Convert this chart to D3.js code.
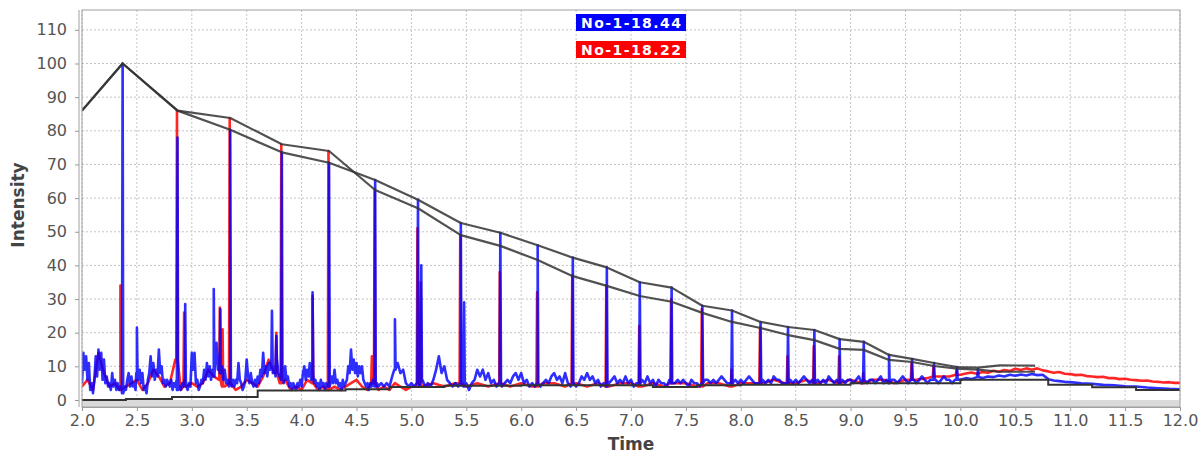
<!DOCTYPE html>
<html><head><meta charset="utf-8">
<script src="https://cdn.jsdelivr.net/npm/d3@7"></script>
<style>body{margin:0;background:#fff}</style>
</head><body>
<svg id="c" width="1203" height="454"></svg>
<script>
// ---------------- DATA ----------------
const xTicks = [2.0,2.5,3.0,3.5,4.0,4.5,5.0,5.5,6.0,6.5,7.0,7.5,8.0,8.5,9.0,9.5,10.0,10.5,11.0,11.5,12.0];
const yTicks = [0,10,20,30,40,50,60,70,80,90,100,110];
const seriesNames = ["No-1-18.44","No-1-18.22"];
const seriesColors = ["#0000ff","#ff0000"];

// blue trace baseline (time, intensity)
const blueNoise = [
[2.0000,5],[2.0125,14],[2.0250,9],[2.0375,13],[2.0500,6],[2.0625,11],[2.0750,3],[2.0875,5],[2.1000,2],[2.1125,6],
[2.1250,13],[2.1375,7],[2.1500,15],[2.1625,9],[2.1750,14],[2.1875,6],[2.2000,12],[2.2125,5],[2.2250,7],[2.2375,4],
[2.2500,5],[2.2625,3],[2.2750,8],[2.2875,4],[2.3000,6],[2.3125,3],[2.3250,5],[2.3375,3],[2.3500,4],[2.3625,3],
[2.3750,2],[2.3875,4],[2.4000,3],[2.4125,6],[2.4250,8],[2.4375,4],[2.4500,7],[2.4625,4],[2.4750,5],[2.4875,3],
[2.5000,8],[2.5125,6],[2.5250,9],[2.5375,5],[2.5500,8],[2.5625,3],[2.5750,4],[2.5875,2],[2.6000,6],[2.6125,8],
[2.6250,13],[2.6375,7],[2.6500,11],[2.6625,6],[2.6750,9],[2.6875,7],[2.7000,15],[2.7125,8],[2.7250,10],[2.7375,5],
[2.7500,6],[2.7625,4],[2.7750,6],[2.7875,5],[2.8000,4],[2.8125,6],[2.8250,3],[2.8375,5],[2.8500,4],[2.8625,6],
[2.8750,3],[2.8875,4],[2.9000,3],[2.9125,5],[2.9250,4],[2.9375,6],[2.9500,4],[2.9625,3],[2.9750,5],[2.9875,4],
[3.0000,14],[3.0125,9],[3.0250,14],[3.0375,5],[3.0500,6],[3.0625,3],[3.0750,4],[3.0875,6],[3.1000,5],[3.1125,9],
[3.1250,6],[3.1375,11],[3.1500,7],[3.1625,10],[3.1750,6],[3.1875,9],[3.2000,7],[3.2125,12],[3.2250,17],[3.2375,9],
[3.2500,13],[3.2625,8],[3.2750,10],[3.2875,6],[3.3000,9],[3.3125,5],[3.3250,6],[3.3375,4],[3.3500,5],[3.3625,4],
[3.3750,6],[3.3875,4],[3.4000,6],[3.4125,5],[3.4250,11],[3.4375,6],[3.4500,5],[3.4625,3],[3.4750,4],[3.4875,6],
[3.5000,12],[3.5125,7],[3.5250,5],[3.5375,8],[3.5500,5],[3.5625,4],[3.5750,6],[3.5875,4],[3.6000,7],[3.6125,5],
[3.6250,9],[3.6375,7],[3.6500,14],[3.6625,8],[3.6750,10],[3.6875,7],[3.7000,11],[3.7125,9],[3.7250,12],[3.7375,8],
[3.7500,10],[3.7625,7],[3.7750,12],[3.7875,8],[3.8000,7],[3.8125,6],[3.8250,8],[3.8375,5],[3.8500,10],[3.8625,6],
[3.8750,7],[3.8875,4],[3.9000,5],[3.9125,3],[3.9250,5],[3.9375,4],[3.9500,3],[3.9625,5],[3.9750,4],[3.9875,6],
[4.0000,4],[4.0125,8],[4.0250,10],[4.0375,6],[4.0500,9],[4.0625,7],[4.0750,11],[4.0875,6],[4.1000,8],[4.1125,5],
[4.1250,6],[4.1375,4],[4.1500,5],[4.1625,3],[4.1750,6],[4.1875,4],[4.2000,5],[4.2125,3],[4.2250,5],[4.2375,4],
[4.2500,4],[4.2625,5],[4.2750,7],[4.2875,5],[4.3000,9],[4.3125,5],[4.3250,6],[4.3375,4],[4.3500,5],[4.3625,3],
[4.3750,6],[4.3875,4],[4.4000,5],[4.4125,6],[4.4250,10],[4.4375,8],[4.4500,15],[4.4625,9],[4.4750,12],[4.4875,8],
[4.5000,11],[4.5125,7],[4.5250,10],[4.5375,8],[4.5500,10],[4.5625,6],[4.5750,5],[4.5875,4],[4.6000,5],[4.6125,3],
[4.6250,5],[4.6375,4],[4.6500,6],[4.6625,4],[4.6750,4],[4.6875,5],[4.7000,4],
[4.725,5],[4.750,4],[4.775,5],[4.800,4],[4.825,7],[4.850,9],[4.875,11],[4.900,8],[4.925,9],[4.950,5],[4.975,4],[5.000,5],
[5.025,4],[5.050,5],[5.075,4],[5.100,6],[5.125,4],[5.150,5],[5.175,4],[5.200,6],[5.225,9],[5.250,13],
[5.275,8],[5.300,10],[5.325,6],[5.350,5],[5.375,4],[5.400,5],[5.425,4],[5.450,5],[5.475,4],[5.500,5],
[5.525,3],[5.550,5],[5.575,6],[5.600,9],[5.625,7],[5.650,9],[5.675,6],[5.700,8],[5.725,5],[5.750,6],
[5.775,4],[5.800,5],[5.825,4],[5.850,5],[5.875,6],[5.900,5],[5.925,7],[5.950,8],[5.975,6],[6.000,8],
[6.025,5],[6.050,6],[6.075,4],[6.100,5],[6.125,4],[6.150,5],[6.175,4],[6.200,5],[6.225,6],[6.250,5],
[6.275,7],[6.300,8],[6.325,6],[6.350,7],[6.375,5],[6.400,8],[6.425,5],[6.450,4],[6.475,5],[6.500,4],
[6.525,5],[6.550,7],[6.575,6],[6.600,8],[6.625,6],[6.650,7],[6.675,5],[6.700,6],[6.725,4],[6.750,5],
[6.775,4],[6.800,5],[6.825,6],[6.850,7],[6.875,5],[6.900,6],[6.925,5],[6.950,7],[6.975,5],[7.000,6],
[7.025,4],[7.050,5],[7.075,5],[7.100,6],[7.125,5],[7.150,7],[7.175,5],[7.200,6],[7.225,4],[7.250,6],
[7.275,5],[7.300,5],[7.325,4],[7.350,6],[7.375,5],[7.400,5],[7.425,6],[7.450,5],[7.475,6],[7.500,5],
[7.525,4],[7.550,6],[7.575,5],[7.600,5],[7.625,4],[7.650,5],[7.675,6],[7.700,6],[7.725,5],[7.750,6],
[7.775,5],[7.800,6],[7.825,7],[7.850,6],[7.875,5],[7.900,5],[7.925,5],[7.950,6],[7.975,5],[8.000,6],
[8.025,5],[8.050,6],[8.075,7],[8.100,6],[8.125,5],[8.150,5],[8.175,5],[8.200,6],[8.225,5],[8.250,6],
[8.275,5],[8.300,7],[8.325,6],[8.350,6],[8.375,5],[8.400,5],[8.425,5],[8.450,6],[8.475,5],[8.500,6],
[8.525,5],[8.550,6],[8.575,7],[8.600,6],[8.625,5],[8.650,6],[8.675,5],[8.700,6],[8.725,5],[8.750,6],
[8.775,5],[8.800,7],[8.825,6],[8.850,5],[8.875,6],[8.900,5],[8.925,6],[8.950,5],[8.975,6],[9.000,6],
[9.025,5],[9.050,6],[9.075,7],[9.100,5],[9.125,6],[9.150,5],[9.175,6],[9.200,6],[9.225,5],[9.250,6],
[9.275,7],[9.300,5],[9.325,6],[9.350,5],[9.375,6],[9.400,6],[9.425,5],[9.450,6],[9.475,7],[9.500,6],
[9.525,5],[9.550,6],[9.575,6],[9.600,5],[9.625,6],[9.650,7],[9.675,6],[9.700,5],[9.725,6],[9.750,6],
[9.775,6],[9.800,5],[9.825,6],[9.850,7],[9.875,6],[9.900,6],[9.925,5],[9.950,6],[9.975,6],[10.000,6],
[10.05,6.5],[10.10,6.2],[10.15,6.8],[10.20,6.5],[10.25,7],[10.30,6.8],[10.35,7.3],[10.40,7],[10.45,7.5],[10.50,7.2],
[10.55,7.6],[10.60,7.3],[10.65,7.7],[10.70,7.4],[10.75,7.5],[10.80,6.2],[10.85,5.8],[10.90,5.6],[10.95,5.4],[11.00,5.3],
[11.1,5.0],[11.2,4.8],[11.3,4.5],[11.4,4.4],[11.5,4.1],[11.6,4.0],[11.7,3.7],[11.8,3.5],[11.9,3.3],[12.0,3.2]
];
// blue spikes (time, apex)
const bluePeaks = [
[2.37,100],[2.50,21.5],[2.87,78],[2.94,28.5],[3.20,33],[3.26,27],[3.35,80.3],[3.73,26.5],[3.77,19],
[3.82,73.6],[4.10,32],[4.25,70.5],[4.67,65.4],[4.85,24],[5.06,59.5],[5.09,40],[5.45,52.6],[5.48,29],
[5.81,49.7],[6.15,46],[6.47,42.3],[6.78,39.4],[7.08,35],[7.37,33.4],[7.65,28],[7.92,26.6],[8.18,23.2],
[8.43,21.7],[8.67,20.8],[8.90,18.1],[9.12,17.3],[9.35,13.4],[9.56,12.2],[9.76,11],[9.97,9.8],[10.16,9.2]
];
// red trace baseline
const redNoise = [
[2.00,4],[2.05,6],[2.10,3],[2.15,14],[2.20,8],[2.25,4],[2.30,5],[2.35,3],[2.40,4],[2.45,5],
[2.50,6],[2.55,3],[2.60,5],[2.65,9],[2.70,7],[2.75,4],[2.80,5],[2.85,12],[2.90,3],[2.95,4],
[3.00,5],[3.05,4],[3.10,5],[3.15,9],[3.20,7],[3.25,6],[3.30,4],[3.35,5],[3.40,3],[3.45,4],
[3.50,6],[3.55,5],[3.60,4],[3.65,7],[3.70,12],[3.75,8],[3.80,5],[3.85,6],[3.90,3],[3.95,4],
[4.00,3],[4.05,6],[4.10,5],[4.15,3],[4.20,4],[4.25,3],[4.30,4],[4.35,3],[4.40,4],[4.45,5],
[4.50,6],[4.55,4],[4.60,3],[4.65,5],[4.70,3],[4.75,4],[4.80,3],[4.85,5],[4.90,4],[4.95,3],
[5.0,4],[5.1,4],[5.2,5],[5.3,4],[5.4,5],[5.5,4],[5.6,5],[5.7,4],[5.8,5],[5.9,4],
[6.0,5],[6.1,4],[6.2,5],[6.3,5],[6.4,4],[6.5,5],[6.6,4],[6.7,5],[6.8,4],[6.9,5],
[7.0,5],[7.1,4],[7.2,5],[7.3,4],[7.4,5],[7.5,5],[7.6,4],[7.7,5],[7.8,5],[7.9,4],
[8.0,5],[8.1,5],[8.2,5],[8.3,6],[8.4,5],[8.5,5],[8.6,6],[8.7,5],[8.8,6],[8.9,5],
[9.0,6],[9.1,5],[9.2,6],[9.3,6],[9.4,5],[9.5,6],[9.6,6],[9.7,6.5],[9.8,7],[9.9,7],
[10.00,7.5],[10.05,7.9],[10.10,8.2],[10.15,7.8],[10.20,8.3],[10.25,8.1],[10.30,8.7],[10.35,8.4],[10.40,8.9],[10.45,8.6],
[10.50,9.3],[10.55,8.9],[10.60,9.4],[10.65,9.0],[10.70,9.4],[10.75,8.8],[10.80,8.5],[10.85,8.1],[10.90,8.3],[10.95,7.8],
[11.0,7.7],[11.05,7.4],[11.1,7.5],[11.15,7.1],[11.2,7.0],[11.25,6.8],[11.3,6.9],[11.35,6.5],[11.4,6.5],[11.45,6.2],
[11.5,6.3],[11.55,6.0],[11.6,5.9],[11.65,5.7],[11.7,5.8],[11.75,5.5],[11.8,5.4],[11.85,5.2],[11.9,5.3],[11.95,5.1],[12.0,5.1]
];
// red spikes (time, apex)
const redPeaks = [
[2.35,34],[2.865,86],[2.93,26],[3.255,27.5],[3.28,21],[3.345,83.8],[3.77,20],[3.815,76],[4.10,31],
[4.245,74],[4.64,13],[4.665,62.4],[5.055,51],[5.085,35],[5.445,49],[5.805,38],[6.145,32],[6.465,37],
[6.775,34],[7.075,22],[7.365,30],[7.645,27],[7.915,9],[8.175,21.5],[8.425,13],[8.665,16],[8.895,13],
[9.115,8],[9.555,11],[9.755,10],[9.965,9]
];
// black envelope lines through the peak apexes
const envelopeA = [
[2.0,86],[2.37,100],[2.87,86],[3.35,83.8],[3.82,76],[4.25,74],[4.67,62.4],[5.06,57],[5.45,49],[5.81,45.8],
[6.15,41.6],[6.47,36.8],[6.78,33.9],[7.08,30.9],[7.37,29.2],[7.65,25.9],[7.92,23.2],[8.18,21.4],[8.43,19.3],
[8.67,17.8],[8.90,15.2],[9.12,14.9],[9.35,11.9],[9.56,11.3],[9.76,10.1],[9.97,9.3],[10.16,9.0],[10.36,8.4],[10.68,8.4]
];
const envelopeB = [
[2.0,86],[2.37,100],[2.87,86],[3.35,80.3],[3.82,73.6],[4.25,70.5],[4.67,65.4],[5.06,59.5],[5.45,52.6],[5.81,49.7],
[6.15,46],[6.47,42.3],[6.78,39.4],[7.08,35],[7.37,33.4],[7.65,28],[7.92,26.6],[8.18,23.2],[8.43,21.7],
[8.67,20.8],[8.90,18.1],[9.12,17.3],[9.35,13.4],[9.56,12.2],[9.76,11],[9.97,9.8],[10.16,9.6],[10.36,10.3],[10.68,10.2]
];
// black stepped baseline
const baselineSteps = [
[2.0,0],[2.4,0.3],[2.82,0.9],[3.6,2.8],[4.4,3.2],[4.8,3.9],[5.3,4.2],[6.0,4.4],[7.2,3.9],[7.6,4.4],
[8.0,4.5],[9.0,5],[10.0,6],[10.8,4.5],[11.2,3.8],[11.6,3],[12.0,3]
];

// ---------------- CHART ----------------
const svg = d3.select("#c");
const L = 82, R = 1180, T = 10, B = 407;
const x = d3.scaleLinear().domain([2,12]).range([L,R]);
const y = d3.scaleLinear().domain([-2.08,115.9]).range([B,T]);
const font = "'DejaVu Sans', sans-serif";

svg.append("rect").attr("width",1203).attr("height",454).attr("fill","#fff");
svg.append("defs").append("clipPath").attr("id","clip")
  .append("rect").attr("x",L).attr("y",T).attr("width",R-L).attr("height",B-T);

// grey band below zero
svg.append("rect").attr("x",L).attr("y",y(0)).attr("width",R-L).attr("height",B-y(0)).attr("fill","#dadada");

// gridlines
const grid = svg.append("g");
grid.selectAll(".gx").data(xTicks).join("line")
  .attr("x1",d=>x(d)).attr("x2",d=>x(d)).attr("y1",T).attr("y2",y(0))
  .attr("stroke","#c4c4c4").attr("stroke-width",1).attr("stroke-dasharray","2,2");
grid.selectAll(".gy").data(yTicks.filter(d=>d>0)).join("line")
  .attr("x1",L).attr("x2",R).attr("y1",d=>y(d)).attr("y2",d=>y(d))
  .attr("stroke","#c4c4c4").attr("stroke-width",1).attr("stroke-dasharray","2,2");

// build traces: baseline samples plus narrow spikes at the peak apexes
function buildTrace(noise, peaks){
  const pts = noise.map(d=>[d[0],d[1]]);
  peaks.forEach(([t,h])=>{
    let best = noise[0];
    noise.forEach(n=>{ if(Math.abs(n[0]-t) < Math.abs(best[0]-t)) best = n; });
    pts.push([t-0.006,best[1]],[t,h],[t+0.006,best[1]]);
  });
  pts.sort((a,b)=>a[0]-b[0]);
  return pts;
}
const line = d3.line().x(d=>x(d[0])).y(d=>y(d[1]));
const plot = svg.append("g").attr("clip-path","url(#clip)");

plot.append("path").datum(buildTrace(redNoise, redPeaks)).attr("d",line)
  .attr("fill","none").attr("stroke",seriesColors[1]).attr("stroke-width",2.6).attr("stroke-opacity",0.85)
  .attr("stroke-linejoin","round");
plot.append("path").datum(buildTrace(blueNoise, bluePeaks)).attr("d",line)
  .attr("fill","none").attr("stroke",seriesColors[0]).attr("stroke-width",2.6).attr("stroke-opacity",0.82)
  .attr("stroke-linejoin","round");

plot.append("path").datum(baselineSteps).attr("d",d3.line().curve(d3.curveStepAfter).x(d=>x(d[0])).y(d=>y(d[1])))
  .attr("fill","none").attr("stroke","#333").attr("stroke-width",2);
[envelopeA, envelopeB].forEach(env=>{
  plot.append("path").datum(env).attr("d",line)
    .attr("fill","none").attr("stroke","#333").attr("stroke-width",2.2).attr("stroke-opacity",0.85)
    .attr("stroke-linejoin","round");
});

// plot border
svg.append("rect").attr("x",L).attr("y",T).attr("width",R-L).attr("height",B-T)
  .attr("fill","none").attr("stroke","#a0a0a0").attr("stroke-width",1);

// axes
const yAxis = svg.append("g").attr("transform",`translate(${L-3},0)`)
  .call(d3.axisLeft(y).tickValues(yTicks).tickFormat(d3.format("d")).tickSize(4).tickPadding(8));
const xAxis = svg.append("g").attr("transform",`translate(0,${B})`)
  .call(d3.axisBottom(x).tickValues(xTicks).tickFormat(d3.format(".1f")).tickSize(4).tickPadding(4));
[yAxis,xAxis].forEach(a=>{
  a.select(".domain").attr("stroke","#a0a0a0");
  a.selectAll(".tick line").attr("stroke","#999");
  a.selectAll("text").attr("fill","#555").style("font-family",font).style("font-size","16px");
});
yAxis.select(".domain").attr("d",`M0,${T}V${B}`);

// axis titles
svg.append("text").attr("x",(L+R)/2).attr("y",450).attr("text-anchor","middle")
  .style("font-family",font).style("font-size","17px").style("font-weight","bold").attr("fill","#444").text("Time");
svg.append("text").attr("transform","translate(24,205) rotate(-90)").attr("text-anchor","middle")
  .style("font-family",font).style("font-size","17px").style("font-weight","bold").attr("fill","#444").text("Intensity");

// legend
const lg = svg.append("g");
seriesNames.forEach((n,i)=>{
  const yy = 14 + i*27;
  lg.append("rect").attr("x",576).attr("y",yy).attr("width",110).attr("height",17).attr("fill",seriesColors[i]);
  lg.append("text").attr("x",631).attr("y",yy+13.5).attr("text-anchor","middle")
    .style("font-family",font).style("font-size","14px").style("font-weight","bold").attr("fill","#fff")
    .attr("textLength",100).attr("lengthAdjust","spacing").text(n);
});
</script>
</body></html>
